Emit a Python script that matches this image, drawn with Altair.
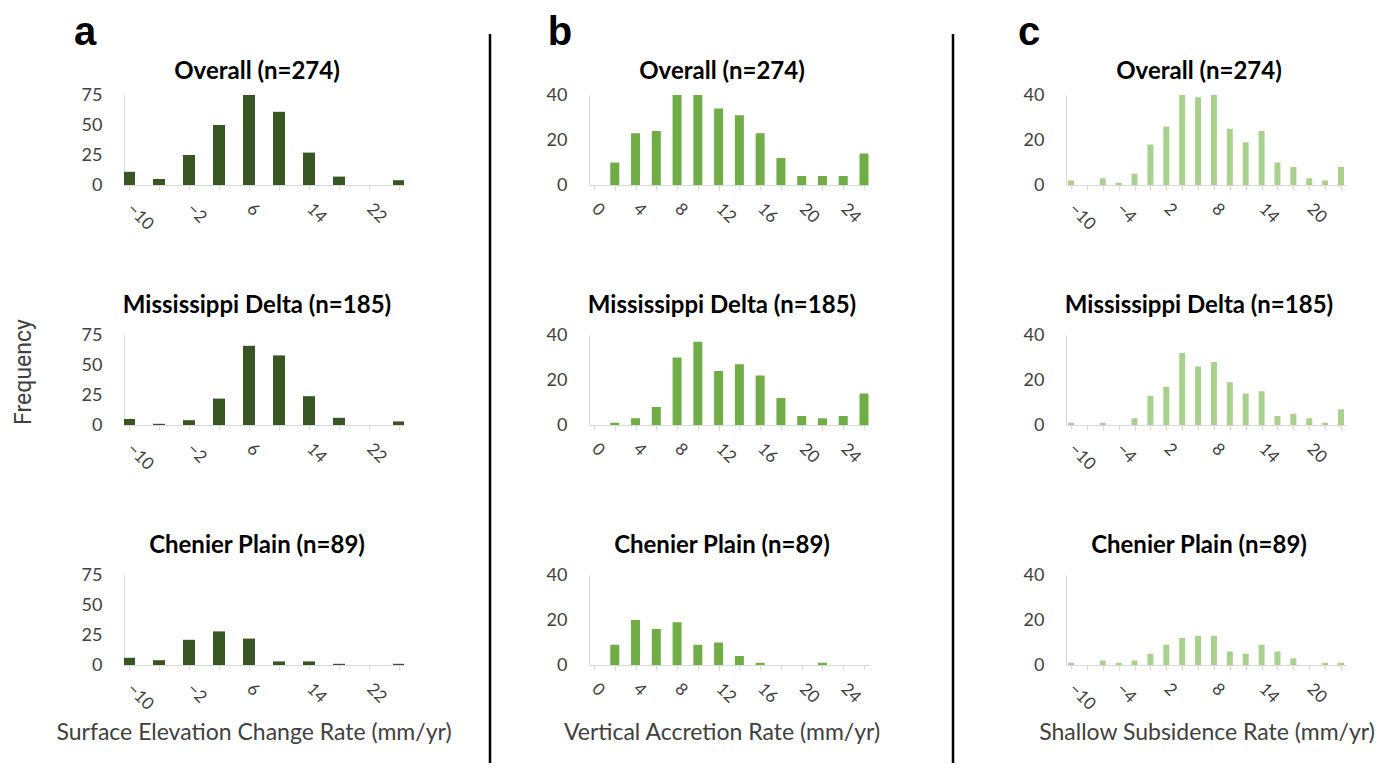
import json
import altair as alt
import pandas as pd

# ---------------- data ----------------
row_titles = ["Overall (n=274)", "Mississippi Delta (n=185)", "Chenier Plain (n=89)"]
panel_letters = ["a", "b", "c"]
x_titles = ["Surface Elevation Change Rate (mm/yr)",
            "Vertical Accretion Rate (mm/yr)",
            "Shallow Subsidence Rate (mm/yr)"]
y_title = "Frequency"

a_x = [-10, -6, -2, 2, 6, 10, 14, 18, 22, 26]
a_overall = [11, 5, 25, 50, 75, 61, 27, 7, 0, 4]
a_missdelta = [5, 1, 4, 22, 66, 58, 24, 6, 0, 3]
a_chenier = [6, 4, 21, 28, 22, 3, 3, 1, 0, 1]
a_ticks = [-10, -6, -2, 2, 6, 10, 14, 18, 22, 26]
a_tick_labels = [-10, -2, 6, 14, 22]
a_y_ticks = [0, 25, 50, 75]

b_x = [2, 4, 6, 8, 10, 12, 14, 16, 18, 20, 22, 24, 26]
b_overall = [10, 23, 24, 40, 40, 34, 31, 23, 12, 4, 4, 4, 14]
b_missdelta = [1, 3, 8, 30, 37, 24, 27, 22, 12, 4, 3, 4, 14]
b_chenier = [9, 20, 16, 19, 9, 10, 4, 1, 0, 0, 1, 0, 0]
b_ticks = [0, 2, 4, 6, 8, 10, 12, 14, 16, 18, 20, 22, 24, 26]
b_tick_labels = [0, 4, 8, 12, 16, 20, 24]
b_y_ticks = [0, 20, 40]

c_x = [-10, -8, -6, -4, -2, 0, 2, 4, 6, 8, 10, 12, 14, 16, 18, 20, 22, 24]
c_overall = [2, 0, 3, 1, 5, 18, 26, 40, 39, 40, 25, 19, 24, 10, 8, 3, 2, 8]
c_missdelta = [1, 0, 1, 0, 3, 13, 17, 32, 26, 28, 19, 14, 15, 4, 5, 3, 1, 7]
c_chenier = [1, 0, 2, 1, 2, 5, 9, 12, 13, 13, 6, 5, 9, 6, 3, 0, 1, 1]
c_ticks = [-10, -8, -6, -4, -2, 0, 2, 4, 6, 8, 10, 12, 14, 16, 18, 20, 22, 24]
c_tick_labels = [-10, -4, 2, 8, 14, 20]
c_y_ticks = [0, 20, 40]

# ---------------- style ----------------
FONT = "Lato"
LETTER_FONT = "Liberation Sans"
YTITLE_FONT = "Roboto"
W, H = 280, 90
ROW_GAP = 150
colors = ["#375623", "#70AD47", "#A9D18E"]
bar_sizes = [12, 9, 6]
title_dy = [-16, -22, -22]
gap_widths = [185, 197]
rule_x = [86, 84]


def one(text):
    return pd.DataFrame({"t": [text]})


def text_layer(text, x, y, size, weight="normal", color="#000000", angle=0,
               align="center", baseline="alphabetic", font=FONT):
    kw = dict(fontSize=size, fontWeight=weight, color=color, font=font,
              align=align, baseline=baseline)
    if angle:
        kw["angle"] = angle
    return alt.Chart(one(text)).mark_text(**kw).encode(
        text="t:N", x=alt.value(x), y=alt.value(y))


def panel(xs, counts, color, size, xdomain, ticks, tick_labels, ydomain, yticks,
          title, tdy, extras):
    df = pd.DataFrame({"x": xs, "n": counts})
    expr = "indexof(%s, datum.value) >= 0 ? datum.label : ''" % json.dumps(tick_labels)
    bars = alt.Chart(df).mark_bar(color=color, size=size, clip=True).encode(
        x=alt.X("x:Q",
                scale=alt.Scale(domain=xdomain, nice=False, zero=False),
                axis=alt.Axis(values=ticks, labelExpr=expr, labelAngle=45,
                              labelAlign="left", labelBaseline="middle",
                              labelFontSize=17, labelFont=FONT, labelColor="#404040",
                              labelPadding=16, labelOverlap=False, labelFlush=False,
                              tickColor="#d9d9d9", tickSize=5, domainColor="#d9d9d9",
                              grid=False, title=None)),
        y=alt.Y("n:Q",
                scale=alt.Scale(domain=ydomain, nice=False),
                axis=alt.Axis(values=yticks, labelFontSize=18, labelFont=FONT,
                              labelColor="#404040", labelPadding=22, ticks=False,
                              domainColor="#d9d9d9", grid=False, title=None)),
    )
    t = text_layer(title, 133, tdy, 24, weight="bold")
    return alt.layer(bars, t, *extras).properties(width=W, height=H)


panels = [
    dict(x=a_x, rows=[a_overall, a_missdelta, a_chenier], xdomain=[-10, 26],
         ticks=a_ticks, labels=a_tick_labels, ydomain=[0, 75], yticks=a_y_ticks,
         letter_x=-39, xt_x=130),
    dict(x=b_x, rows=[b_overall, b_missdelta, b_chenier], xdomain=[0, 26],
         ticks=b_ticks, labels=b_tick_labels, ydomain=[0, 40], yticks=b_y_ticks,
         letter_x=-29, xt_x=133),
    dict(x=c_x, rows=[c_overall, c_missdelta, c_chenier], xdomain=[-10, 24],
         ticks=c_ticks, labels=c_tick_labels, ydomain=[0, 40], yticks=c_y_ticks,
         letter_x=-37, xt_x=141),
]


def divider(width, xpos):
    return alt.Chart(one("|")).mark_rule(color="#000000", strokeWidth=2.5).encode(
        x=alt.value(xpos), y=alt.value(-61), y2=alt.value(668)
    ).properties(width=width, height=H)


def spacer(width):
    return alt.Chart(one("")).mark_rule(opacity=0).encode(
        x=alt.value(0), y=alt.value(0), y2=alt.value(1)
    ).properties(width=width, height=H)


cells = []
for ri in range(3):
    for pi, p in enumerate(panels):
        extras = []
        if ri == 0:
            extras.append(text_layer(panel_letters[pi], p["letter_x"], -50, 40,
                                     weight="bold", font=LETTER_FONT))
        if ri == 2:
            extras.append(text_layer(x_titles[pi], p["xt_x"], 165, 23,
                                     color="#404040"))
        if pi == 0 and ri == 1:
            extras.append(text_layer(y_title, -100, 37, 23, color="#404040",
                                     angle=270, baseline="middle",
                                     font=YTITLE_FONT))
        cells.append(panel(p["x"], p["rows"][ri], colors[pi], bar_sizes[pi],
                           p["xdomain"], p["ticks"], p["labels"], p["ydomain"],
                           p["yticks"], row_titles[ri], title_dy[ri], extras))
        if pi < 2:
            if ri == 0:
                cells.append(divider(gap_widths[pi], rule_x[pi]))
            else:
                cells.append(spacer(gap_widths[pi]))

chart = alt.concat(
    *cells, columns=5, spacing={"row": ROW_GAP, "column": 0},
    bounds="flush", align="each"
).properties(
    padding={"left": 5, "top": 5, "right": 0, "bottom": 0}
).configure_view(stroke=None)

chart.save("out.html", embed_options={"renderer": "svg", "actions": False})
